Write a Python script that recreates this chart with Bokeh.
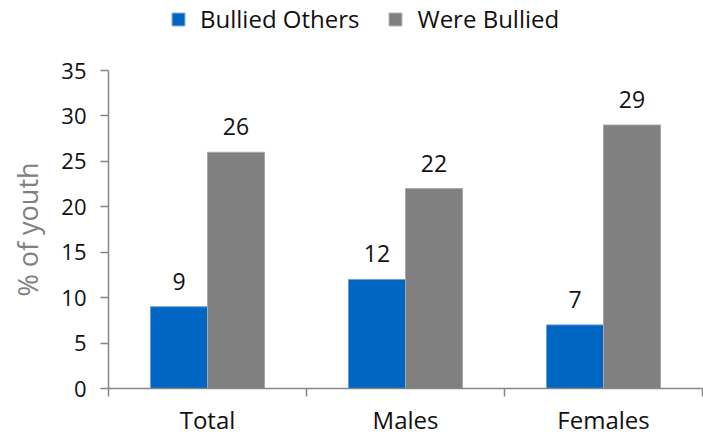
from bokeh.plotting import figure
from bokeh.layouts import column
from bokeh.models import ColumnDataSource, Range1d, FixedTicker, Legend, LegendItem, LabelSet
from bokeh.transform import dodge
from bokeh.core.properties import value
from bokeh.embed import file_html
from bokeh.resources import INLINE

categories = ["Total", "Males", "Females"]
bullied_others = [9, 12, 7]
were_bullied = [26, 22, 29]
series_names = ["Bullied Others", "Were Bullied"]
series_cols = ["a", "b"]
series_colors = ["#0066C4", "#808080"]
series_lines = ["#6a9fd8", "#a6a6a6"]
y_ticks = [0, 5, 10, 15, 20, 25, 30, 35]

FONT = "Open Sans"
xs = [i + 0.5 for i in range(len(categories))]
src = ColumnDataSource(dict(x=xs, a=bullied_others, b=were_bullied,
                            la=[str(v) for v in bullied_others],
                            lb=[str(v) for v in were_bullied]))
w = 0.288

# ---- legend strip (frame aligned with the chart's frame by the column layout) ----
top = figure(width=703, height=56, output_backend="svg", toolbar_location=None,
             x_range=Range1d(0, 1), y_range=Range1d(0, 1),
             x_axis_location=None, y_axis_location=None,
             min_border_left=0, min_border_right=0, min_border_top=0, min_border_bottom=0)
top.outline_line_color = None
top.grid.visible = False
lr = [top.vbar(x="x", top=c, width=w, source=src, fill_color=fc, line_color=lc, visible=False)
      for c, fc, lc in zip(series_cols, series_colors, series_lines)]
legend = Legend(items=[LegendItem(label=n, renderers=[r]) for n, r in zip(series_names, lr)],
                orientation="horizontal", location=(62, 21),
                padding=0, margin=0, spacing=28, label_standoff=14,
                glyph_width=16, glyph_height=16,
                label_text_font=FONT, label_text_font_size="24px", label_text_color="#111111",
                inactive_fill_alpha=0,
                border_line_color=None, background_fill_alpha=0)
top.add_layout(legend, "center")

# ---- chart ----
p = figure(width=703, height=382, output_backend="svg", toolbar_location=None,
           x_range=Range1d(0, len(categories)), y_range=Range1d(0, 35),
           min_border_left=108, min_border_right=1, min_border_top=14, min_border_bottom=49)
p.outline_line_color = None
p.xgrid.visible = False
p.ygrid.visible = False

offs = [-0.144, 0.144]
for c, fc, lc, off in zip(series_cols, series_colors, series_lines, offs):
    p.vbar(x=dodge("x", off, range=p.x_range), top=c, width=w, source=src,
           fill_color=fc, line_color=lc, line_width=1)
    p.add_layout(LabelSet(x=dodge("x", off, range=p.x_range), y=c, text="l" + c, source=src,
                          text_align="center", text_baseline="alphabetic", y_offset=17,
                          text_font=value(FONT), text_font_size=value("23px"),
                          text_color=value("#111111")))

p.yaxis.ticker = FixedTicker(ticks=y_ticks)
p.yaxis.axis_label = "% of youth"
p.yaxis.axis_label_text_font = FONT
p.yaxis.axis_label_text_font_size = "27px"
p.yaxis.axis_label_text_font_style = "normal"
p.yaxis.axis_label_text_color = "#808080"
p.yaxis.axis_label_standoff = 12
p.yaxis.major_label_text_font = FONT
p.yaxis.major_label_text_font_size = "22px"
p.yaxis.major_label_text_color = "#111111"
p.yaxis.major_label_standoff = 14
p.yaxis.major_tick_out = 8
p.yaxis.major_tick_in = 0
p.yaxis.minor_tick_line_color = None
p.yaxis.axis_line_color = "#868686"
p.yaxis.major_tick_line_color = "#868686"
p.yaxis.axis_line_width = 1.5
p.yaxis.major_tick_line_width = 1.5

p.xaxis.ticker = FixedTicker(ticks=xs, minor_ticks=list(range(len(categories) + 1)))
p.xaxis.major_label_overrides = {x: c for x, c in zip(xs, categories)}
p.xaxis.major_label_text_font = FONT
p.xaxis.major_label_text_font_size = "24px"
p.xaxis.major_label_text_color = "#111111"
p.xaxis.major_label_standoff = 6
p.xaxis.major_tick_line_color = None
p.xaxis.major_tick_out = 0
p.xaxis.major_tick_in = 0
p.xaxis.minor_tick_out = 8
p.xaxis.minor_tick_in = 0
p.xaxis.minor_tick_line_color = "#868686"
p.xaxis.minor_tick_line_width = 1.5
p.xaxis.axis_line_color = "#868686"
p.xaxis.axis_line_width = 1.5

layout = column(top, p, spacing=0)
open("out.html", "w").write(file_html(layout, INLINE))
